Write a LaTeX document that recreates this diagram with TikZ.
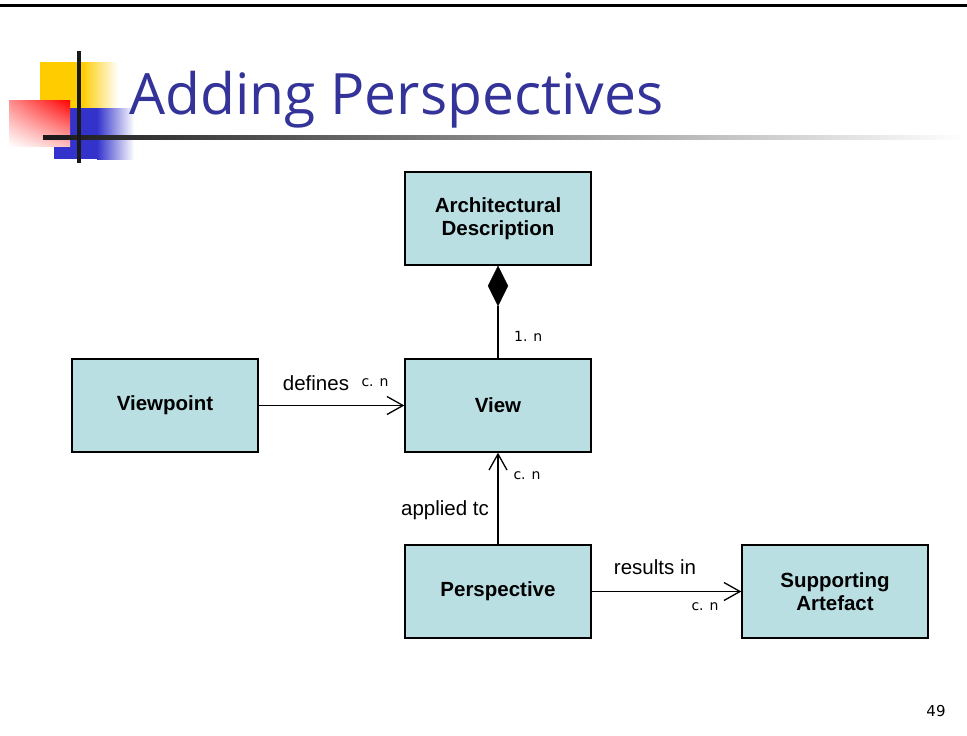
\documentclass[tikz,border=0pt]{standalone}
\usepackage{fontspec}
\setmainfont{Liberation Sans}
\newfontfamily\titlefont{Open Sans}
\newfontfamily\smallfont{DejaVu Sans}
\usetikzlibrary{arrows.meta,shapes.geometric,shadings}
\definecolor{boxfill}{HTML}{B9DFE3}
\definecolor{titleblue}{HTML}{333399}
\definecolor{logoyellow}{HTML}{FFCC00}
\definecolor{logoblue}{HTML}{3333CC}
\tikzset{
  umlbox/.style={draw=black, line width=1.4pt, fill=boxfill, minimum width=186pt, minimum height=93pt, align=center, font=\fontsize{20.5}{23}\selectfont\bfseries, inner sep=0pt},
  assoc/.style={draw=black, line width=1.3pt, -{Straight Barb[length=16pt, width=18pt, line width=1.3pt]}},
  lbl/.style={font=\fontsize{20.5}{23}\selectfont, inner sep=0pt},
  mult/.style={font=\smallfont\fontsize{14}{16}\selectfont, inner sep=0pt}
}
\begin{document}
\begin{tikzpicture}[x=1pt,y=-1pt]
\useasboundingbox (0,0) rectangle (967,736);
% top rule
\fill[black] (0,3.5) rectangle (967,6.5);
% logo
\fill[logoyellow] (40,62) rectangle (82,108);
\shade[left color=logoyellow, right color=white] (82,62) rectangle (118,108);
\fill[logoblue] (54,108) rectangle (97,159);
\shade[left color=logoblue, right color=white] (97,108) rectangle (134,159);
\shade[upper left=red!45, upper right=red, lower left=white, lower right=red!25] (9,100) rectangle (70,146);
\shade[left color=black!90, right color=white] (43,135) rectangle (965,139);
\fill[black!90] (77,51) rectangle (81,163);
% title
\node[anchor=base west, text=titleblue, font=\titlefont\fontsize{57}{66}\selectfont, inner sep=0pt] (title) at (129,114) {Adding Perspectives};
% boxes
\node[umlbox] (ad) at (498,218.5) {Architectural\\Description};
\node[umlbox] (vp) at (165,405.5) {Viewpoint};
\node[umlbox] (view) at (498,405.5) {View};
\node[umlbox] (persp) at (498,591.5) {Perspective};
\node[umlbox] (sa) at (835,591.5) {Supporting\\Artefact};
% composition
\node[diamond, fill=black, draw=black, minimum width=20pt, minimum height=40pt, inner sep=0pt, anchor=north] (dia) at (ad.south) {};
\draw[line width=1.3pt] (dia.south) -- (view.north);
\node[mult, anchor=west] (m1) at (514,336) {1. n};
% defines
\draw[assoc] (vp.east) -- (view.west);
\node[lbl, anchor=base] (l1) at (316,390) {defines};
\node[mult] (m2) at (375,383) {c. n};
% applied to
\draw[assoc] (persp.north) -- (view.south);
\node[lbl] (l2) at (445,510) {applied tc};
\node[mult] (m3) at (527,476) {c. n};
% results in
\draw[assoc] (persp.east) -- (sa.west);
\node[lbl] (l3) at (655,567) {results in};
\node[mult] (m4) at (705,607) {c. n};
% page number
\node[font=\smallfont\fontsize{15}{18}\selectfont, inner sep=0pt] (pg) at (936,711) {49};
\end{tikzpicture}
\end{document}
